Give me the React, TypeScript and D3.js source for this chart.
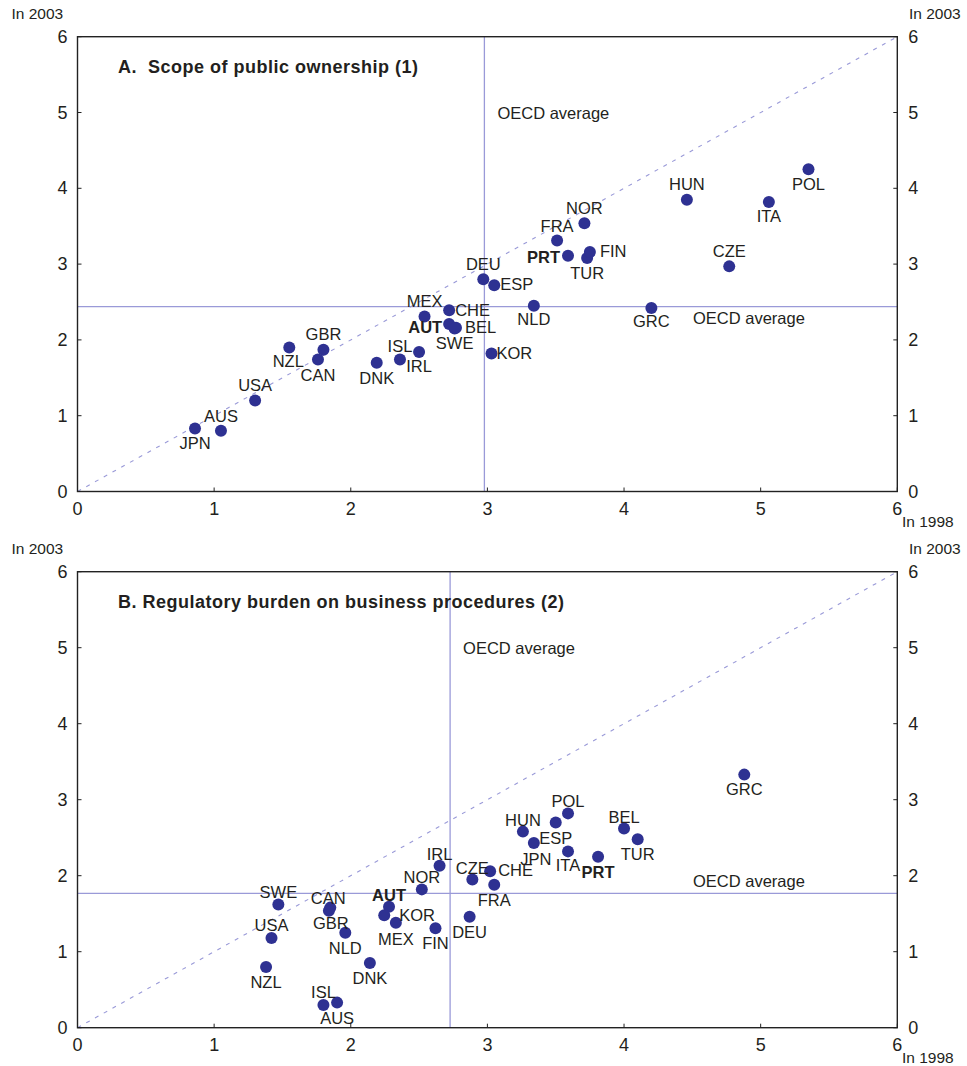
import React from "react";
import * as d3 from "d3";

// ---------- Data ----------
// Panel A: Scope of public ownership
const countriesA = ["JPN","AUS","USA","NZL","GBR","CAN","DNK","ISL","IRL","MEX","CHE","AUT","BEL","SWE","DEU","ESP","KOR","NLD","GRC","CZE","PRT","TUR","FIN","FRA","NOR","HUN","ITA","POL"];
const x1998A = [0.86,1.05,1.30,1.55,1.80,1.76,2.19,2.36,2.50,2.54,2.72,2.72,2.77,2.76,2.97,3.05,3.03,3.34,4.20,4.77,3.59,3.73,3.75,3.51,3.71,4.46,5.06,5.35];
const y2003A = [0.83,0.80,1.20,1.90,1.87,1.74,1.70,1.74,1.84,2.31,2.39,2.21,2.16,2.15,2.80,2.72,1.82,2.45,2.42,2.97,3.11,3.08,3.16,3.31,3.54,3.85,3.82,4.25];
const avgA = { x: 2.978, y: 2.44 };

// Panel B: Regulatory burden on business procedures
const countriesB = ["SWE","USA","NZL","ISL","AUS","CAN","GBR","NLD","DNK","AUT","KOR","MEX","NOR","IRL","FIN","DEU","CZE","CHE","FRA","HUN","JPN","ESP","POL","ITA","PRT","BEL","TUR","GRC"];
const x1998B = [1.47,1.42,1.38,1.80,1.90,1.85,1.84,1.96,2.14,2.28,2.245,2.33,2.52,2.65,2.62,2.87,2.89,3.02,3.05,3.26,3.34,3.50,3.59,3.59,3.81,4.00,4.10,4.88];
const y2003B = [1.62,1.18,0.80,0.30,0.33,1.58,1.54,1.25,0.85,1.59,1.48,1.38,1.82,2.13,1.31,1.46,1.95,2.06,1.88,2.58,2.43,2.70,2.82,2.32,2.25,2.62,2.48,3.33];
const avgB = { x: 2.727, y: 1.768 };

const axisTicks = [0, 1, 2, 3, 4, 5, 6];

// label placement: [anchor, dx, dy] relative to the dot (dy = vertical centre offset)
type Place = [string, number, number];
const placeA: Record<string, Place> = {
  JPN: ["middle", 0, 14], AUS: ["middle", 0, -15], USA: ["middle", 0, -16], NZL: ["middle", -1, 14],
  GBR: ["middle", 0, -16], CAN: ["middle", 0, 15], DNK: ["middle", 0, 15], ISL: ["middle", 0, -14],
  IRL: ["middle", 0, 14], MEX: ["middle", 0, -15], CHE: ["start", 6, 0], AUT: ["end", -7, 3],
  BEL: ["start", 9, -1], SWE: ["middle", 0, 14], DEU: ["middle", 0, -15], ESP: ["start", 6, -1],
  KOR: ["start", 5, -1], NLD: ["middle", 0, 13], GRC: ["middle", 0, 13], CZE: ["middle", 0, -15],
  PRT: ["end", -8, 1], TUR: ["middle", 0, 15], FIN: ["start", 10, -1], FRA: ["middle", 0, -15],
  NOR: ["middle", 0, -15], HUN: ["middle", 0, -16], ITA: ["middle", 0, 14], POL: ["middle", 0, 15],
};
const placeB: Record<string, Place> = {
  SWE: ["middle", 0, -13], USA: ["middle", 0, -13], NZL: ["middle", 0, 15], ISL: ["middle", 0, -13],
  AUS: ["middle", 0, 15], CAN: ["middle", -2, -10], GBR: ["middle", 2, 12], NLD: ["middle", 0, 15],
  DNK: ["middle", 0, 15], AUT: ["middle", 0, -12], KOR: ["start", 15, 0], MEX: ["middle", 0, 16],
  NOR: ["middle", 0, -12], IRL: ["middle", 0, -12], FIN: ["middle", 0, 15], DEU: ["middle", 0, 15],
  CZE: ["middle", 0, -12], CHE: ["start", 8, -1], FRA: ["middle", 0, 15], HUN: ["middle", 0, -12],
  JPN: ["middle", 2, 16], ESP: ["middle", 0, 15], POL: ["middle", 0, -12], ITA: ["middle", 0, 14],
  PRT: ["middle", 0, 15], BEL: ["middle", 0, -12], TUR: ["middle", 0, 15], GRC: ["middle", 0, 14],
};
const boldSet = new Set(["PRT", "AUT"]);

const FONT = "'Liberation Sans', Arial, Helvetica, sans-serif";
const TEXT = "#231f20";
const DOT = "#2e3192";
const LINE = "#9a9ad8";

interface PanelProps {
  top: number; bottom: number; title: string;
  names: string[]; xs: number[]; ys: number[];
  avg: { x: number; y: number }; place: Record<string, Place>;
  avgHLabelDy: number;
}

const LEFT = 77.5, RIGHT = 897.3;

function Panel({ top, bottom, title, names, xs, ys, avg, place, avgHLabelDy }: PanelProps) {
  const x = d3.scaleLinear().domain([0, 6]).range([LEFT, RIGHT]);
  const y = d3.scaleLinear().domain([0, 6]).range([bottom, top]);
  const diag = d3.line<number>().x((d) => x(d)).y((d) => y(d))([0, 6]) || "";
  return (
    <g fontFamily={FONT} fill={TEXT}>
      {/* reference lines */}
      <path d={diag} stroke={LINE} strokeWidth={1.1} strokeDasharray="4,6" fill="none" />
      <line x1={x(avg.x)} x2={x(avg.x)} y1={y(0)} y2={y(6)} stroke={LINE} strokeWidth={1.3} />
      <line x1={x(0)} x2={x(6)} y1={y(avg.y)} y2={y(avg.y)} stroke={LINE} strokeWidth={1.3} />
      <text x={x(avg.x) + 13} y={y(5)} dominantBaseline="central" fontSize={16.5}>OECD average</text>
      <text x={693} y={y(avg.y) + avgHLabelDy} dominantBaseline="central" fontSize={16.5}>OECD average</text>
      {/* frame */}
      <rect x={x(0)} y={y(6)} width={x(6) - x(0)} height={y(0) - y(6)} fill="none" stroke="#222" strokeWidth={1.4} />
      {/* ticks */}
      {axisTicks.map((t) => (
        <g key={"t" + t}>
          <line x1={x(0)} x2={x(0) + 4} y1={y(t)} y2={y(t)} stroke="#222" />
          <line x1={x(6)} x2={x(6) - 4} y1={y(t)} y2={y(t)} stroke="#222" />
          <line x1={x(t)} x2={x(t)} y1={y(0)} y2={y(0) - 4} stroke="#222" />
          <text x={x(0) - 10} y={y(t)} textAnchor="end" dominantBaseline="central" fontSize={18}>{t}</text>
          <text x={x(6) + 11} y={y(t)} textAnchor="start" dominantBaseline="central" fontSize={18}>{t}</text>
          <text x={x(t)} y={y(0) + 23} textAnchor="middle" fontSize={18}>{t}</text>
        </g>
      ))}
      <text x={11.5} y={y(6) - 17.5} fontSize={15.5}>In 2003</text>
      <text x={909} y={y(6) - 17.5} fontSize={15.5}>In 2003</text>
      <text x={902} y={y(0) + 35} fontSize={15.5}>In 1998</text>
      <text x={118} y={y(6) + 36} fontSize={18} fontWeight="bold" letterSpacing={0.5}>{title}</text>
      {/* points */}
      {names.map((n, i) => (
        <circle key={"c" + n} cx={x(xs[i])} cy={y(ys[i])} r={6} fill={DOT} />
      ))}
      {names.map((n, i) => {
        const p = place[n] || ["middle", 0, -14];
        return (
          <text key={"l" + n} x={x(xs[i]) + p[1]} y={y(ys[i]) + p[2]} textAnchor={p[0] as any}
            dominantBaseline="central" fontSize={16.5} fontWeight={boldSet.has(n) ? "bold" : "normal"}>{n}</text>
        );
      })}
    </g>
  );
}

export default function App() {
  return (
    <svg width={967} height={1066} style={{ position: "absolute", left: 0, top: 0, background: "#fff" }}>
      <rect width={967} height={1066} fill="#fff" />
      <Panel top={36.7} bottom={491.5} title={"A.\u00a0\u00a0Scope of public ownership (1)"}
        names={countriesA} xs={x1998A} ys={y2003A} avg={avgA} place={placeA} avgHLabelDy={11} />
      <Panel top={571.7} bottom={1027.7} title="B. Regulatory burden on business procedures (2)"
        names={countriesB} xs={x1998B} ys={y2003B} avg={avgB} place={placeB} avgHLabelDy={-12} />
    </svg>
  );
}
